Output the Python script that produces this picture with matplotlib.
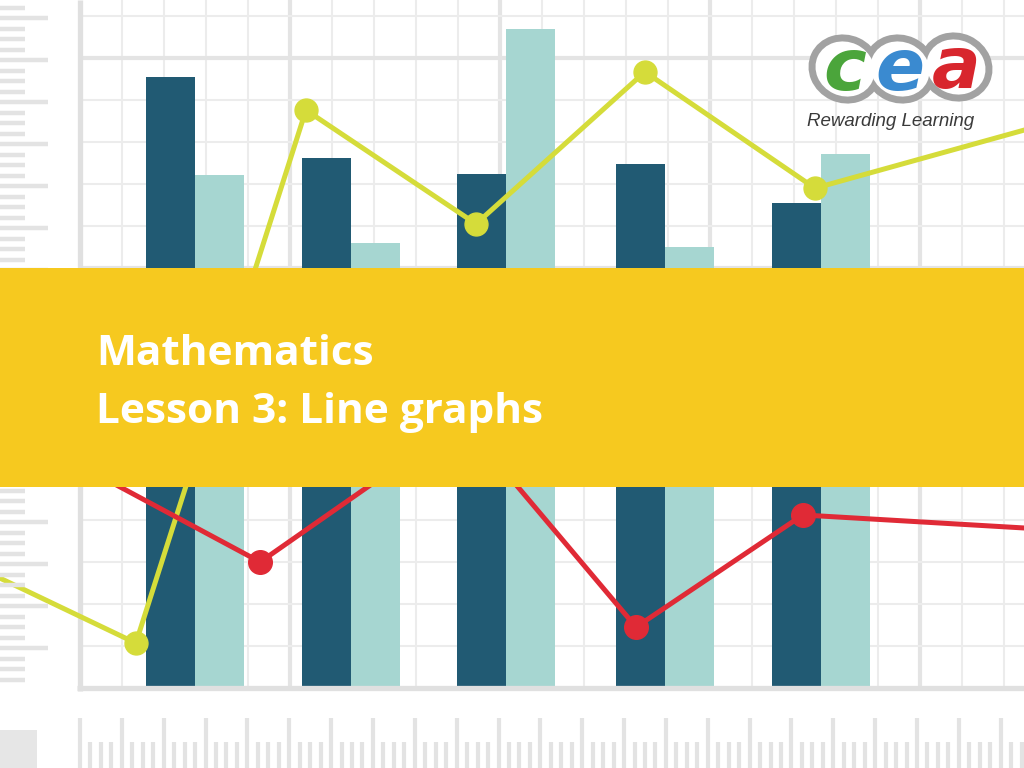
import numpy as np
import matplotlib.pyplot as plt
from matplotlib.patches import Ellipse, Rectangle

# chart values, measured in grid squares
# (x counted from the left axis line, y from the bottom axis line)
groups = [2.74, 6.45, 10.14, 13.93, 17.64]
dark_vals = [14.55, 12.62, 12.24, 12.48, 11.55]
light_vals = [12.21, 10.60, 15.69, 10.50, 12.71]

yellow_x = [-2.71, 1.33, 5.38, 9.43, 13.45, 17.50, 23.33]
yellow_y = [3.00, 1.07, 13.76, 11.05, 14.67, 11.90, 13.52]

red_x = [0.24, 4.29, 9.10, 13.24, 17.21, 23.33]
red_y = [5.17, 3.00, 6.36, 1.45, 4.12, 3.76]

title_lines = ['Mathematics', 'Lesson 3: Line graphs']
logo_letters = ['c', 'e', 'a']
logo_colors = ['#4ba53b', '#3a8ad0', '#d8262d']
tagline = 'Rewarding Learning'

dark = '#215a73'
light = '#a6d6d1'
yellow = '#d5dc3a'
red = '#e02a36'
band = '#f6c91f'
grid_c = '#ececec'
grid_major = '#e4e4e4'

fig = plt.figure(figsize=(10.24, 7.68), dpi=100)

# ---- the chart itself, one unit = one grid square (42 px)
u = 42.0
ax = fig.add_axes([0, 0, 1, 1])
ax.set_xlim(-80 / u, 944 / u)
ax.set_ylim(-80 / u, 688 / u)
ax.axis('off')

top = 688 / u
right = 944 / u
for i in range(1, 23):
    if i % 5 == 0:
        ax.vlines(i, 0, top, color=grid_major, lw=3.0, zorder=0)
    else:
        ax.vlines(i, 0, top, color=grid_c, lw=1.5, zorder=0)
for j in range(1, 17):
    if j % 5 == 0:
        ax.hlines(j, 0, right, color=grid_major, lw=3.0, zorder=0)
    else:
        ax.hlines(j, 0, right, color=grid_c, lw=1.5, zorder=0)
ax.vlines(0, -0.08, top, color='#e0e0e0', lw=3.8, zorder=1)

bw = 1.17
g = np.array(groups)
ax.bar(g - bw / 2, dark_vals, bw, color=dark, zorder=2)
ax.bar(g + bw / 2, light_vals, bw, color=light, zorder=2)
ax.hlines(0, -0.06, right, color='#e0e0e0', lw=3.8, zorder=3)

ax.plot(yellow_x, yellow_y, '-o', color=yellow, lw=3.6, ms=16.5,
        markevery=[1, 2, 3, 4, 5], zorder=4)
ax.plot(red_x, red_y, '-o', color=red, lw=3.6, ms=17,
        markevery=[0, 1, 2, 3, 4], zorder=5)

# ---- decoration layer in pixel coordinates
ov = fig.add_axes([0, 0, 1, 1], zorder=2)
ov.set_xlim(0, 1024)
ov.set_ylim(768, 0)
ov.axis('off')

ruler = '#e3e3e3'
ky = np.arange(0, 65)
ry = 7.5 + 10.5 * ky
ry_long = ry[(ky % 4 == 1) & (ry < 695)]
ry_short = ry[(ky % 4 != 1) & (ry < 695)]
ov.hlines(ry_long, 0, 48, color=ruler, lw=3.2, zorder=1)
ov.hlines(ry_short, 0, 25, color=ruler, lw=3.2, zorder=1)

kx = np.arange(0, 92)
rx = 80 + 10.4625 * kx
ov.vlines(rx[kx % 4 == 0], 718, 768, color=ruler, lw=3.0, zorder=1)
ov.vlines(rx[kx % 4 != 0], 742, 768, color=ruler, lw=3.0, zorder=1)
ov.add_patch(Rectangle((0, 730), 37, 38, color='#e6e6e6', lw=0, zorder=1))

ov.add_patch(Rectangle((0, 268), 1024, 219, color=band, lw=0, zorder=3))
ov.text(96, 365, title_lines[0], color='white', fontsize=30.5,
        fontweight='bold', family='Open Sans', va='baseline', zorder=4)
ov.text(96, 423, title_lines[1], color='white', fontsize=30.5,
        fontweight='bold', family='Open Sans', va='baseline', zorder=4)

# logo
centers = [(845, 69), (900, 69), (956, 67)]
for cx, cy in centers:
    ov.add_patch(Ellipse((cx, cy), 74, 68, angle=25, color='#a2a2a2', lw=0, zorder=4))
for cx, cy in centers:
    ov.add_patch(Ellipse((cx, cy), 60, 54, angle=25, color='white', lw=0, zorder=4))
for (cx, cy), letter, col in zip(centers, logo_letters, logo_colors):
    ov.text(cx, cy + 21, letter, color=col, fontsize=52, fontweight='bold',
            style='italic', family='DejaVu Sans', ha='center', va='baseline',
            zorder=5)
ov.text(891, 122, tagline, color='#3a3a3a', fontsize=13.5, style='italic',
        family='Liberation Sans', ha='center', va='center', zorder=5)

fig.savefig('out.png', dpi=100)
